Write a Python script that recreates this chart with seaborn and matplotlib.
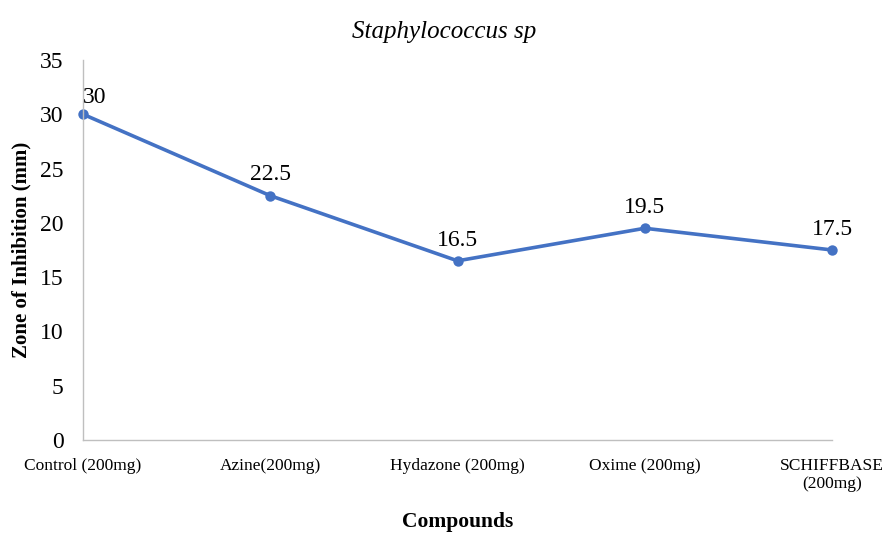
import matplotlib
matplotlib.use("Agg")
import matplotlib.pyplot as plt
import seaborn as sns
import pandas as pd

compounds = ["Control (200mg)", "Azine(200mg)", "Hydazone (200mg)", "Oxime (200mg)", "SCHIFFBASE\n(200mg)"]
inhibition = [30, 22.5, 16.5, 19.5, 17.5]
value_labels = ["30", "22.5", "16.5", "19.5", "17.5"]
y_ticks = [0, 5, 10, 15, 20, 25, 30, 35]

sns.set_theme(style="white")
plt.rcParams["font.family"] = ["Liberation Serif", "DejaVu Serif"]
plt.rcParams["text.color"] = "black"
plt.rcParams["axes.labelcolor"] = "black"
plt.rcParams["xtick.color"] = "black"
plt.rcParams["ytick.color"] = "black"

df = pd.DataFrame({"pos": range(len(compounds)), "zone": inhibition})

fig = plt.figure(figsize=(8.88, 5.33), dpi=100)
ax_left, ax_width = 0.0935, 0.8435
ax = fig.add_axes([ax_left, 0.1745, ax_width, 0.713])

line_color = "#4472C4"
sns.lineplot(data=df, x="pos", y="zone", ax=ax, color=line_color, linewidth=2.6,
             marker="o", markersize=7.5, markeredgecolor=line_color, markeredgewidth=0)
for artist in ax.lines:
    artist.set_clip_on(False)

# value labels above each point
for x, y, t in zip(df["pos"], df["zone"], value_labels):
    dx, dy = (8, 8) if x == 0 else (0, 11)
    ax.annotate(t, (x, y), xytext=(dx, dy), textcoords="offset points",
                ha="center", va="baseline", fontsize=17)

ax.set_xlim(0, len(compounds) - 1)
ax.set_ylim(0, 35)
ax.set_yticks(y_ticks)
ax.set_yticklabels([str(v) for v in y_ticks], fontsize=17)
ax.set_xticks(range(len(compounds)))
ax.set_xticklabels(compounds, fontsize=12.5)
ax.tick_params(axis="y", length=0, pad=14)
ax.tick_params(axis="x", length=0, pad=13)

for s in ["top", "right"]:
    ax.spines[s].set_visible(False)
for s in ["left", "bottom"]:
    ax.spines[s].set_color("#BFBFBF")
    ax.spines[s].set_linewidth(1.0)

ax.set_xlabel("Compounds", fontsize=15.5, fontweight="bold", labelpad=14)
ax.set_ylabel("Zone of Inhibition (mm)", fontsize=15, fontweight="bold", labelpad=6)
ax.set_title("Staphylococcus sp", fontsize=18, style="italic", pad=16,
             x=(0.5 - ax_left) / ax_width)

fig.savefig("out.png", dpi=100)
